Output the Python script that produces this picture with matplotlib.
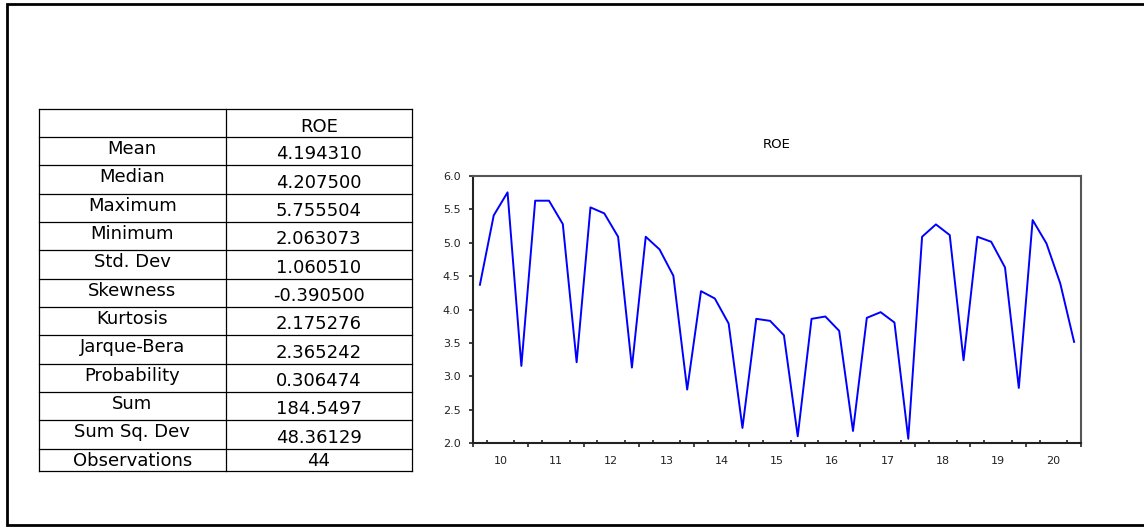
import matplotlib
matplotlib.use('Agg')
import matplotlib.pyplot as plt
import numpy as np

# Statistiche descrittive (tabella a sinistra)
stat_names = ['Mean', 'Median', 'Maximum', 'Minimum', 'Std. Dev', 'Skewness',
              'Kurtosis', 'Jarque-Bera', 'Probability', 'Sum', 'Sum Sq. Dev',
              'Observations']
stat_values = ['4.194310', '4.207500', '5.755504', '2.063073', '1.060510',
               '-0.390500', '2.175276', '2.365242', '0.306474', '184.5497',
               '48.36129', '44']
series_name = 'ROE'

# Serie trimestrale 2010Q1 - 2020Q4
years = list(range(2010, 2021))
roe = [4.37, 5.41, 5.755, 3.155,
       5.63, 5.63, 5.28, 3.21,
       5.53, 5.44, 5.09, 3.13,
       5.09, 4.90, 4.505, 2.80,
       4.275, 4.165, 3.79, 2.225,
       3.86, 3.83, 3.615, 2.10,
       3.86, 3.895, 3.68, 2.18,
       3.875, 3.96, 3.805, 2.063,
       5.09, 5.275, 5.115, 3.24,
       5.09, 5.015, 4.63, 2.825,
       5.34, 4.99, 4.39, 3.515]
y_ticks = [2.0, 2.5, 3.0, 3.5, 4.0, 4.5, 5.0, 5.5, 6.0]

W, H = 1144, 527
fig = plt.figure(figsize=(W / 100, H / 100), dpi=100)
fig.patch.set_facecolor('white')

# Asse di sfondo in pixel per cornice e tabella
bg = fig.add_axes([0, 0, 1, 1])
bg.set_xlim(0, W)
bg.set_ylim(H, 0)
bg.axis('off')

# Cornice esterna (il lato destro esce dall'immagine)
bg.plot([1150, 6.5, 6.5, 1150], [3.5, 3.5, 524.5, 524.5], color='black', lw=2.0,
        solid_joinstyle='miter')

# Tabella
tab_font = dict(family='DejaVu Sans', fontsize=13, color='black')
x_left, x_mid, x_right = 38.5, 226, 411.5
header_top, header_bot = 109, 137
row_h = 28.33
row_edges = [header_top, header_bot] + [header_bot + row_h * (k + 1) for k in range(len(stat_names) - 1)] + [471]

for ye in row_edges:
    bg.plot([x_left, x_right], [ye, ye], color='black', lw=0.9)
for xe in (x_left, x_mid, x_right):
    bg.plot([xe, xe], [row_edges[0], row_edges[-1]], color='black', lw=0.9)

c_lab = (x_left + x_mid) / 2
c_val = (x_mid + x_right) / 2
bg.text(c_val, header_top + 22.5, series_name, ha='center', va='baseline', **tab_font)
for k, (name, val) in enumerate(zip(stat_names, stat_values)):
    top = row_edges[k + 1]
    last = k == len(stat_names) - 1
    bg.text(c_lab, top + 17, name, ha='center', va='baseline', **tab_font)
    bg.text(c_val, top + (17 if last else 22.3), val, ha='center', va='baseline', **tab_font)

# Grafico della serie
ax_l, ax_r, ax_t, ax_b = 473, 1081, 176, 443
ax = fig.add_axes([ax_l / W, 1 - ax_b / H, (ax_r - ax_l) / W, (ax_b - ax_t) / H])
x = [yr + (q - 0.5) / 4 for yr in years for q in (1, 2, 3, 4)]
ax.plot(x, roe, color='#0000FF', lw=1.4)

ax.set_xlim(years[0], years[-1] + 1)
ax.set_ylim(y_ticks[0], y_ticks[-1])

tick_font = dict(family='DejaVu Sans', size=8)
ax.set_yticks(y_ticks)
ax.set_yticklabels([f'{v:.1f}' for v in y_ticks], **tick_font)
ax.tick_params(axis='y', direction='out', length=3, width=1.2, pad=6, colors='#222222')

ax.set_xticks([yr + 0.5 for yr in years])
ax.set_xticklabels([str(yr)[2:] for yr in years], **tick_font)
ax.set_xticks([yr + q / 4 for yr in years for q in (1, 2, 3)], minor=True)
ax.tick_params(axis='x', which='major', length=0, pad=9, colors='#222222')
ax.tick_params(axis='x', which='minor', direction='in', length=2, width=1.2, color='#222222')

sec = ax.secondary_xaxis('bottom')
sec.set_xticks(years + [years[-1] + 1])
sec.set_xticklabels([])
sec.tick_params(direction='out', length=3, width=1.2, color='#222222')
sec.spines['bottom'].set_visible(False)

for side in ('left', 'bottom'):
    ax.spines[side].set_color('#222222')
    ax.spines[side].set_linewidth(1.5)
for side in ('top', 'right'):
    ax.spines[side].set_color('#555555')
    ax.spines[side].set_linewidth(1.5)

ax.text(0.5, 1 + (ax_t - 145) / (ax_b - ax_t), series_name, transform=ax.transAxes,
        ha='center', va='center', family='DejaVu Sans', fontsize=9.5)

fig.savefig('out.png', dpi=100)
